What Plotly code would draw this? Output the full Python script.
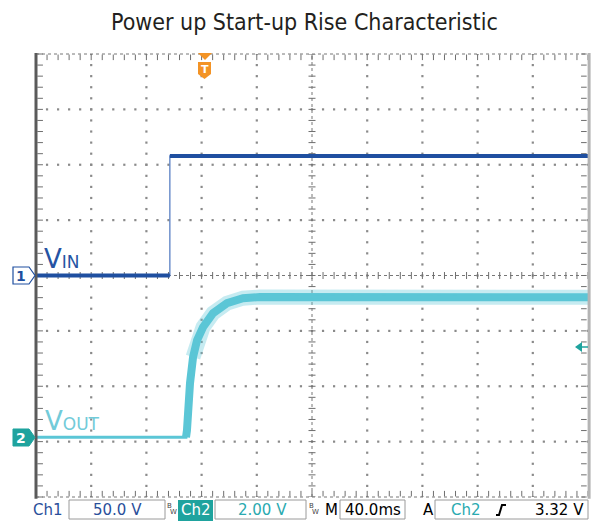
import numpy as np
import plotly.graph_objects as go

# --- scope readings (time in ms from left edge of screen) ---
CH1_T = [0, 97.0, 97.0, 400]
CH1_V = [0, 0, 108, 108]          # volts, 50 V/div

CH2_T = [0, 108.7, 109.4, 111.6, 113.8, 116.7, 121.0, 128.3, 138.4, 150.0, 162.3, 400]
CH2_V = [0, 0, 0.25, 1.95, 2.89, 3.50, 3.97, 4.48, 4.84, 5.02, 5.06, 5.05]   # volts, 2 V/div

TRIG_T = 120.0        # trigger position (ms)
TRIG_LEVEL = 3.32     # volts on Ch2
CH2_OFFSET_DIV = -2.92

STATUS = {"ch1": "50.0 V", "ch2": "2.00 V", "time": "40.0ms", "level": "3.32 V"}

# colours
BLUE = "#1f4fa0"
BLUE_THIN = "#5a80c4"
CYAN = "#5bc6d6"
TEAL = "#1fa39e"
GRID = "#8a8a8a"

# pixel geometry of the graticule
W, H = 598, 521
PL, PT, PW, PH = 36, 54, 552, 443


def px(x):
    return (x - PL) / PW


def py(y):
    return (PT + PH - y) / PH


def path(points):
    s = "M " + " L ".join(f"{px(x):.5f},{py(y):.5f}" for x, y in points)
    return s + " Z"


fig = go.Figure()

# --- graticule ---
xs_fine = np.arange(0, 400.1, 8)
ys_fine = np.arange(-200, 200.1, 10)
gx, gy = [], []
for k in [1, 2, 3, 4, 6, 7, 8, 9]:
    gx += [k * 40] * len(ys_fine)
    gy += list(ys_fine)
for k in [1, 2, 3, 5, 6, 7]:
    gx += list(xs_fine)
    gy += [-200 + k * 50] * len(xs_fine)
fig.add_trace(go.Scatter(x=gx, y=gy, mode="markers", hoverinfo="skip",
                         marker=dict(symbol="square", size=2.2, color=GRID)))

# centre line ticks
fig.add_trace(go.Scatter(x=xs_fine, y=[0] * len(xs_fine), mode="markers", hoverinfo="skip",
                         marker=dict(symbol="line-ns", size=5, line=dict(width=1, color="#6e6e6e"))))
fig.add_trace(go.Scatter(x=[200] * len(ys_fine), y=ys_fine, mode="markers", hoverinfo="skip",
                         marker=dict(symbol="line-ew", size=5, line=dict(width=1, color="#6e6e6e"))))
# border ticks
fig.add_trace(go.Scatter(x=list(xs_fine) * 2, y=[197] * len(xs_fine) + [-197] * len(xs_fine),
                         mode="markers", hoverinfo="skip", cliponaxis=False,
                         marker=dict(symbol="line-ns", size=4, line=dict(width=1, color="#6e6e6e"))))
fig.add_trace(go.Scatter(x=[3] * len(ys_fine) + [397] * len(ys_fine), y=list(ys_fine) * 2,
                         mode="markers", hoverinfo="skip", cliponaxis=False,
                         marker=dict(symbol="line-ew", size=4, line=dict(width=1, color="#6e6e6e"))))

# --- Ch2 (VOUT) ---
rise = CH2_T.index(108.7)
fig.add_trace(go.Scatter(x=CH2_T[rise + 3:], y=CH2_V[rise + 3:], mode="lines", yaxis="y2",
                         hoverinfo="skip", line=dict(color="rgba(91,198,214,0.35)", width=15)))
fig.add_trace(go.Scatter(x=CH2_T[rise:], y=CH2_V[rise:], mode="lines", yaxis="y2", hoverinfo="skip",
                         line=dict(color=CYAN, width=8)))
fig.add_trace(go.Scatter(x=CH2_T, y=CH2_V, mode="lines", yaxis="y2", hoverinfo="skip",
                         line=dict(color=CYAN, width=3)))

# --- Ch1 (VIN) ---
fig.add_trace(go.Scatter(x=CH1_T, y=CH1_V, mode="lines", hoverinfo="skip",
                         line=dict(color=BLUE_THIN, width=1.3)))
fig.add_trace(go.Scatter(x=CH1_T[:2] + [None] + CH1_T[2:], y=CH1_V[:2] + [None] + CH1_V[2:],
                         mode="lines", hoverinfo="skip", line=dict(color=BLUE, width=4)))

shapes = [
    # centre dotted lines
    dict(type="line", xref="x", yref="y", x0=0, x1=400, y0=0, y1=0,
         line=dict(color="#777", width=1, dash="dot"), layer="below"),
    dict(type="line", xref="x", yref="y", x0=200, x1=200, y0=-200, y1=200,
         line=dict(color="#777", width=1, dash="dot"), layer="below"),
    # borders
    dict(type="line", xref="paper", yref="paper", x0=0, x1=1, y0=1, y1=1,
         line=dict(color="#777", width=1, dash="dot")),
    dict(type="line", xref="paper", yref="paper", x0=0, x1=1, y0=0, y1=0,
         line=dict(color="#777", width=1, dash="dot")),
    dict(type="line", xref="paper", yref="paper", x0=0, x1=0, y0=-0.004, y1=1.002,
         line=dict(color="#5a5a5a", width=3)),
    dict(type="line", xref="paper", yref="paper", x0=1.002, x1=1.002, y0=-0.004, y1=1.002,
         line=dict(color="#b4b4b4", width=3)),
    # channel ground markers
    dict(type="path", xref="paper", yref="paper",
         path=path([(13, 267), (29, 267), (35, 275.5), (29, 284), (13, 284)]),
         fillcolor="white", line=dict(color=BLUE, width=1.2)),
    dict(type="path", xref="paper", yref="paper",
         path=path([(13, 429), (29, 429), (35, 437.5), (29, 446), (13, 446)]),
         fillcolor=TEAL, line=dict(color=TEAL, width=1)),
    # trigger position marker
    dict(type="path", xref="paper", yref="paper",
         path=path([(198, 53), (212, 53), (205, 60)]),
         fillcolor="#f39325", line=dict(width=0)),
    dict(type="path", xref="paper", yref="paper",
         path=path([(198, 62), (211, 62), (211, 74), (204.5, 79), (198, 74)]),
         fillcolor="#f39325", line=dict(width=0)),
    # trigger level marker
    dict(type="path", xref="paper", yref="paper",
         path=path([(575, 347), (582, 342), (582, 352)]),
         fillcolor=TEAL, line=dict(width=0)),
    dict(type="line", xref="paper", yref="paper", x0=px(580), x1=px(588), y0=py(347), y1=py(347),
         line=dict(color=TEAL, width=1.5)),
    # status bar boxes
    dict(type="rect", xref="paper", yref="paper", x0=px(69), x1=px(165), y0=py(519), y1=py(500),
         fillcolor="white", line=dict(color="#9a9a9a", width=1)),
    dict(type="rect", xref="paper", yref="paper", x0=px(178), x1=px(213), y0=py(521), y1=py(500),
         fillcolor=TEAL, line=dict(width=0)),
    dict(type="rect", xref="paper", yref="paper", x0=px(215), x1=px(306), y0=py(519), y1=py(500),
         fillcolor="white", line=dict(color="#9a9a9a", width=1)),
    dict(type="rect", xref="paper", yref="paper", x0=px(340), x1=px(405), y0=py(519), y1=py(500),
         fillcolor="white", line=dict(color="#9a9a9a", width=1)),
    dict(type="rect", xref="paper", yref="paper", x0=px(435), x1=px(588), y0=py(519), y1=py(500),
         fillcolor="white", line=dict(color="#9a9a9a", width=1)),
    # rising edge glyph
    dict(type="path", xref="paper", yref="paper",
         path=path([(496, 515), (499, 515), (502, 505), (506, 505), (502, 505), (499, 515)]),
         line=dict(color="black", width=2)),
]

SB = "DejaVu Sans"


def note(text, x, y, size, color, anchor="center", family=SB, bold=False):
    return dict(text=f"<b>{text}</b>" if bold else text, x=px(x), y=py(y),
                xref="paper", yref="paper", xanchor=anchor, yanchor="middle",
                showarrow=False, font=dict(family=family, size=size, color=color))


annotations = [
    note("Power up Start-up Rise Characteristic", 304, 22, 23, "#231f20",
         family="'DejaVu Sans Condensed', 'Liberation Sans Narrow', Roboto, sans-serif"),
    note("V<span style='font-size:17px'>IN</span>", 42, 259, 26, "#2553a3", anchor="left"),
    note("V<span style='font-size:17px'>OUT</span>", 43, 421, 26, "#72cbd9", anchor="left"),
    note("1", 21, 275.5, 14, BLUE, bold=True),
    note("2", 21, 437.5, 14, "white", bold=True),
    note("T", 204.5, 69, 11, "white", bold=True),
    note("Ch1", 48, 510, 15, "#2a4f9b"),
    note(STATUS["ch1"], 117, 510, 15, "#2a4f9b"),
    note("B", 169, 506, 7, "#444"),
    note("W", 173.5, 512, 7, "#444"),
    note("Ch2", 195.5, 510, 15, "white"),
    note(STATUS["ch2"], 262, 510, 15, "#2aaab0"),
    note("B", 311, 506, 7, "#444"),
    note("W", 315.5, 512, 7, "#444"),
    note("M", 331, 510, 15, "black"),
    note(STATUS["time"], 372.5, 510, 15, "black"),
    note("A", 428, 510, 15, "black"),
    note("Ch2", 466, 510, 15, "#2aaab0"),
    note(STATUS["level"], 586, 510, 15, "black", anchor="right"),
]

hidden = dict(showgrid=False, zeroline=False, showticklabels=False, showline=False, ticks="")
fig.update_layout(
    width=W, height=H,
    margin=dict(l=PL, r=W - PL - PW, t=PT, b=H - PT - PH),
    paper_bgcolor="white", plot_bgcolor="white",
    showlegend=False,
    xaxis=dict(range=[0, 400], **hidden),
    yaxis=dict(range=[-200, 200], **hidden),
    yaxis2=dict(range=[(-4 - CH2_OFFSET_DIV) * 2, (4 - CH2_OFFSET_DIV) * 2],
                overlaying="y", **hidden),
    shapes=shapes,
    annotations=annotations,
)

# page body has a default margin; remove it so the figure sits at the window corner
fig.write_html("out.html", config={"displayModeBar": False},
               post_script="document.body.style.margin='0';")
